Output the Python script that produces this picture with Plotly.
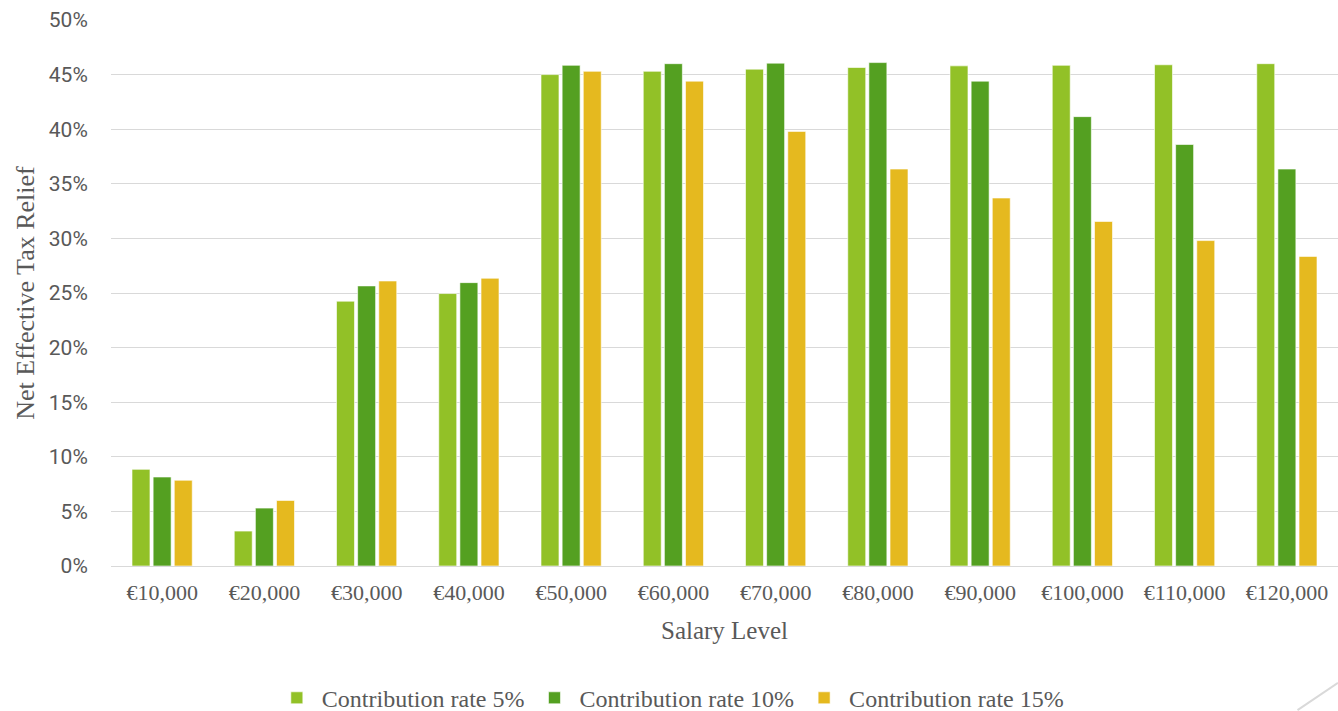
import plotly.graph_objects as go

categories = ["€10,000", "€20,000", "€30,000", "€40,000", "€50,000", "€60,000",
              "€70,000", "€80,000", "€90,000", "€100,000", "€110,000", "€120,000"]
rate_5 = [8.85, 3.2, 24.25, 24.95, 45.0, 45.3, 45.5, 45.65, 45.8, 45.85, 45.9, 46.0]
rate_10 = [8.15, 5.3, 25.65, 25.95, 45.85, 46.0, 46.05, 46.1, 44.4, 41.15, 38.6, 36.35]
rate_15 = [7.85, 6.0, 26.1, 26.35, 45.3, 44.4, 39.8, 36.35, 33.7, 31.55, 29.8, 28.35]
series_names = ["Contribution rate 5%", "Contribution rate 10%", "Contribution rate 15%"]
series_colors = ["#92C127", "#54A021", "#E5B91F"]

fig = go.Figure()
for name, vals, col in zip(series_names, [rate_5, rate_10, rate_15], series_colors):
    fig.add_trace(go.Bar(
        x=categories, y=[v / 100 for v in vals], name=name,
        marker=dict(color=col, line=dict(color="rgba(255,255,255,0.6)", width=1)),
    ))

serif = "Liberation Serif"
gray = "#595959"

fig.update_layout(
    width=1338, height=711,
    margin=dict(l=111, r=0, t=20, b=145),
    paper_bgcolor="white", plot_bgcolor="white",
    barmode="group", bargap=0.38, bargroupgap=0.15,
    showlegend=True,
    legend=dict(orientation="h", xref="container", yref="container",
                x=0.501, xanchor="center", y=0.018, yanchor="middle",
                font=dict(family=serif, size=24, color=gray),
                itemwidth=40, traceorder="normal"),
    xaxis=dict(
        title=dict(text="Salary Level", font=dict(family=serif, size=25, color=gray), standoff=17),
        tickfont=dict(family=serif, size=22, color=gray),
        showgrid=False, showline=False,
        ticks="outside", ticklen=7, tickcolor="rgba(0,0,0,0)",
        automargin=False,
    ),
    yaxis=dict(
        title=dict(text="Net Effective Tax Relief", font=dict(family=serif, size=26, color=gray), standoff=6),
        tickfont=dict(family="Roboto", size=21, color=gray),
        range=[0, 0.5], dtick=0.05, tickformat=".0%",
        showgrid=True, gridcolor="#D9D9D9", gridwidth=1.3,
        zeroline=True, zerolinecolor="#D9D9D9", zerolinewidth=1.3,
        ticks="outside", ticklen=18, tickcolor="rgba(0,0,0,0)",
        automargin=False,
    ),
    shapes=[dict(type="line", xref="paper", yref="paper",
                 x0=0.967, y0=-0.264, x1=1.0, y1=-0.214,
                 line=dict(color="#D9D9D9", width=2))],
)

fig.write_html("out.html", config={"displayModeBar": False},
               post_script="document.body.style.margin='0';")
